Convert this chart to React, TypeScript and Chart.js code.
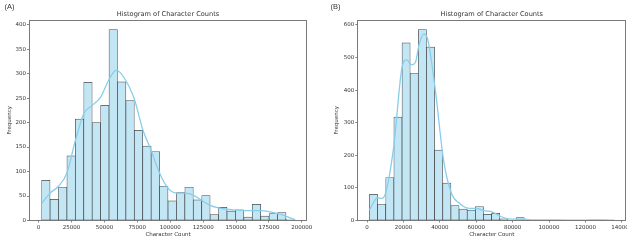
import React, { useEffect, useRef } from 'react';
import { Chart, registerables } from 'chart.js';

Chart.register(...registerables);

const TITLE = 'Histogram of Character Counts';
const X_LABEL = 'Character Count';
const Y_LABEL = 'Frequency';

// ---- Panel A ----
const A_BIN_START = 2300;
const A_BIN_WIDTH = 6400;
const A_COUNTS = [82, 43, 68, 132, 207, 282, 200, 235, 390, 283, 245, 184, 152, 141, 70, 40, 57, 68, 42, 51, 12, 27, 19, 22, 7, 33, 9, 14, 16, 3];
const A_KDE_X = [2300, 8700, 15100, 21500, 27900, 34300, 40700, 47100, 53500, 59000, 65300, 72700, 79100, 85500, 91900, 98300, 104700, 111100, 117500, 123900, 130300, 136700, 143100, 149500, 155900, 162300, 168700, 175100, 181500, 187900, 194300];
const A_KDE_Y = [35, 56, 70, 97, 163, 218, 235, 252, 288, 307, 290, 248, 186, 143, 97, 66, 56, 56, 52, 41, 31, 26, 23, 21, 20, 20, 20, 18, 14, 9, 2];
const A_X_TICKS = [0, 25000, 50000, 75000, 100000, 125000, 150000, 175000, 200000];
const A_Y_TICKS = [0, 50, 100, 150, 200, 250, 300, 350, 400];
const A_X_MIN = -7300;
const A_X_MAX = 203900;
const A_Y_MAX = 409.5;

// ---- Panel B ----
const B_BIN_START = 1270;
const B_BIN_WIDTH = 4480;
const B_COUNTS = [80, 50, 132, 317, 545, 452, 586, 532, 216, 115, 46, 35, 32, 43, 19, 22, 5, 1, 9, 1, 0, 1, 1, 0, 1, 0, 1, 2, 1, 1];
const B_KDE_X = [1270, 5750, 8000, 10200, 14700, 19200, 21800, 24500, 26500, 28600, 31000, 33100, 37500, 42000, 46400, 50900, 55300, 59800, 64300, 68800, 73200, 77700, 82200, 86700, 91100, 100000, 110000, 120000, 130000, 135700];
const B_KDE_Y = [32, 70, 68, 85, 230, 470, 493, 478, 485, 540, 572, 560, 400, 186, 83, 52, 38, 37, 30, 26, 13, 5, 4, 4, 2, 2, 1, 1, 2, 1];
const B_X_TICKS = [0, 20000, 40000, 60000, 80000, 100000, 120000, 140000];
const B_Y_TICKS = [0, 100, 200, 300, 400, 500, 600];
const B_X_MIN = -5400;
const B_X_MAX = 142500;
const B_Y_MAX = 615.3;

const FONT = "'DejaVu Sans', sans-serif";
const TEXT = '#333333';

type PanelSpec = {
  binStart: number;
  binWidth: number;
  counts: number[];
  kdeX: number[];
  kdeY: number[];
  xTicks: number[];
  yTicks: number[];
  xMin: number;
  xMax: number;
  yMax: number;
  yAxisW: number;
  yTitlePad: number;
  padRight: number;
};

const framePlugin = {
  id: 'frame',
  afterDraw(chart: any) {
    const { ctx, chartArea } = chart;
    const l = Math.round(chartArea.left) + 0.5;
    const t = Math.round(chartArea.top) + 0.5;
    const r = Math.round(chartArea.right) - 0.5;
    const b = Math.round(chartArea.bottom) - 0.5;
    ctx.save();
    ctx.strokeStyle = '#7a7a7a';
    ctx.lineWidth = 1;
    ctx.strokeRect(l, t, r - l, b - t);
    ctx.restore();
  },
};

function buildConfig(p: PanelSpec): any {
  const bars = p.counts.map((c, i) => ({ x: p.binStart + p.binWidth * (i + 0.5), y: c }));
  const kde = p.kdeX.map((x, i) => ({ x, y: p.kdeY[i] }));
  const tickFont = { family: FONT, size: 5.5 };
  return {
    type: 'bar',
    data: {
      datasets: [
        {
          type: 'line',
          data: kde,
          borderColor: '#87ceeb',
          borderWidth: 1.3,
          pointRadius: 0,
          cubicInterpolationMode: 'monotone',
          fill: false,
          order: 0,
        },
        {
          type: 'bar',
          data: bars,
          backgroundColor: '#c3e6f5',
          borderColor: 'rgba(45,45,45,0.85)',
          borderWidth: 0.7,
          borderSkipped: false,
          barPercentage: 1,
          categoryPercentage: 1,
          order: 1,
        },
      ],
    },
    options: {
      responsive: false,
      animation: false,
      events: [],
      layout: { padding: { left: 0, right: p.padRight, top: 0, bottom: 0 } },
      plugins: {
        legend: { display: false },
        tooltip: { enabled: false },
        title: {
          display: true,
          text: TITLE,
          fullSize: false,
          color: TEXT,
          font: { family: FONT, size: 6.6, weight: 'normal' },
          padding: { top: 10.54, bottom: 1.54 },
        },
      },
      scales: {
        x: {
          type: 'linear',
          min: p.xMin,
          max: p.xMax,
          offset: false,
          border: { display: false },
          grid: { display: true, drawOnChartArea: false, drawTicks: true, tickLength: 2, color: '#666', lineWidth: 0.8, offset: false },
          ticks: { font: tickFont, color: TEXT, padding: 1.5, autoSkip: false, maxRotation: 0, minRotation: 0, callback: (v: any) => String(v) },
          afterBuildTicks: (s: any) => { s.ticks = p.xTicks.map((v) => ({ value: v })); },
          afterFit: (s: any) => { s.height = 24.5; s.paddingLeft = 0; s.paddingRight = 0; },
          title: { display: true, text: X_LABEL, color: TEXT, font: { family: FONT, size: 5.5 }, padding: { top: 0, bottom: 6.7 } },
        },
        y: {
          type: 'linear',
          min: 0,
          max: p.yMax,
          border: { display: false },
          grid: { display: true, drawOnChartArea: false, drawTicks: true, tickLength: 2, color: '#666', lineWidth: 0.8 },
          ticks: { font: tickFont, color: TEXT, padding: 1, autoSkip: false, callback: (v: any) => String(v) },
          afterBuildTicks: (s: any) => { s.ticks = p.yTicks.map((v) => ({ value: v })); },
          afterFit: (s: any) => { s.width = p.yAxisW; s.paddingTop = 0; s.paddingBottom = 0; },
          title: { display: true, text: Y_LABEL, color: TEXT, font: { family: FONT, size: 5.5 }, padding: { top: p.yTitlePad, bottom: 0 } },
        },
      },
    },
    plugins: [framePlugin],
  };
}

function Panel({ spec, left, width }: { spec: PanelSpec; left: number; width: number }) {
  const ref = useRef<HTMLCanvasElement>(null);
  useEffect(() => {
    const chart = new Chart(ref.current as HTMLCanvasElement, buildConfig(spec));
    return () => chart.destroy();
  }, []);
  return (
    <canvas
      ref={ref}
      width={width}
      height={245}
      style={{ position: 'absolute', left, top: 0, width, height: 245 }}
    />
  );
}

const SPEC_A: PanelSpec = {
  binStart: A_BIN_START, binWidth: A_BIN_WIDTH, counts: A_COUNTS, kdeX: A_KDE_X, kdeY: A_KDE_Y,
  xTicks: A_X_TICKS, yTicks: A_Y_TICKS, xMin: A_X_MIN, xMax: A_X_MAX, yMax: A_Y_MAX,
  yAxisW: 29, yTitlePad: 6.7, padRight: 6,
};

const SPEC_B: PanelSpec = {
  binStart: B_BIN_START, binWidth: B_BIN_WIDTH, counts: B_COUNTS, kdeX: B_KDE_X, kdeY: B_KDE_Y,
  xTicks: B_X_TICKS, yTicks: B_Y_TICKS, xMin: B_X_MIN, xMax: B_X_MAX, yMax: B_Y_MAX,
  yAxisW: 44.3, yTitlePad: 20.4, padRight: 0.7,
};

const labelStyle: React.CSSProperties = {
  position: 'absolute',
  top: 3,
  fontFamily: "'Liberation Sans', Arial, sans-serif",
  fontSize: 7.5,
  lineHeight: '7.5px',
  color: TEXT,
};

export default function App() {
  return (
    <div style={{ position: 'absolute', left: 0, top: 0, width: 627, height: 245, overflow: 'hidden', background: '#fff' }}>
      <Panel spec={SPEC_A} left={0} width={313} />
      <Panel spec={SPEC_B} left={313} width={314} />
      <span style={{ ...labelStyle, left: 4.5 }}>(A)</span>
      <span style={{ ...labelStyle, left: 330.5 }}>(B)</span>
    </div>
  );
}
